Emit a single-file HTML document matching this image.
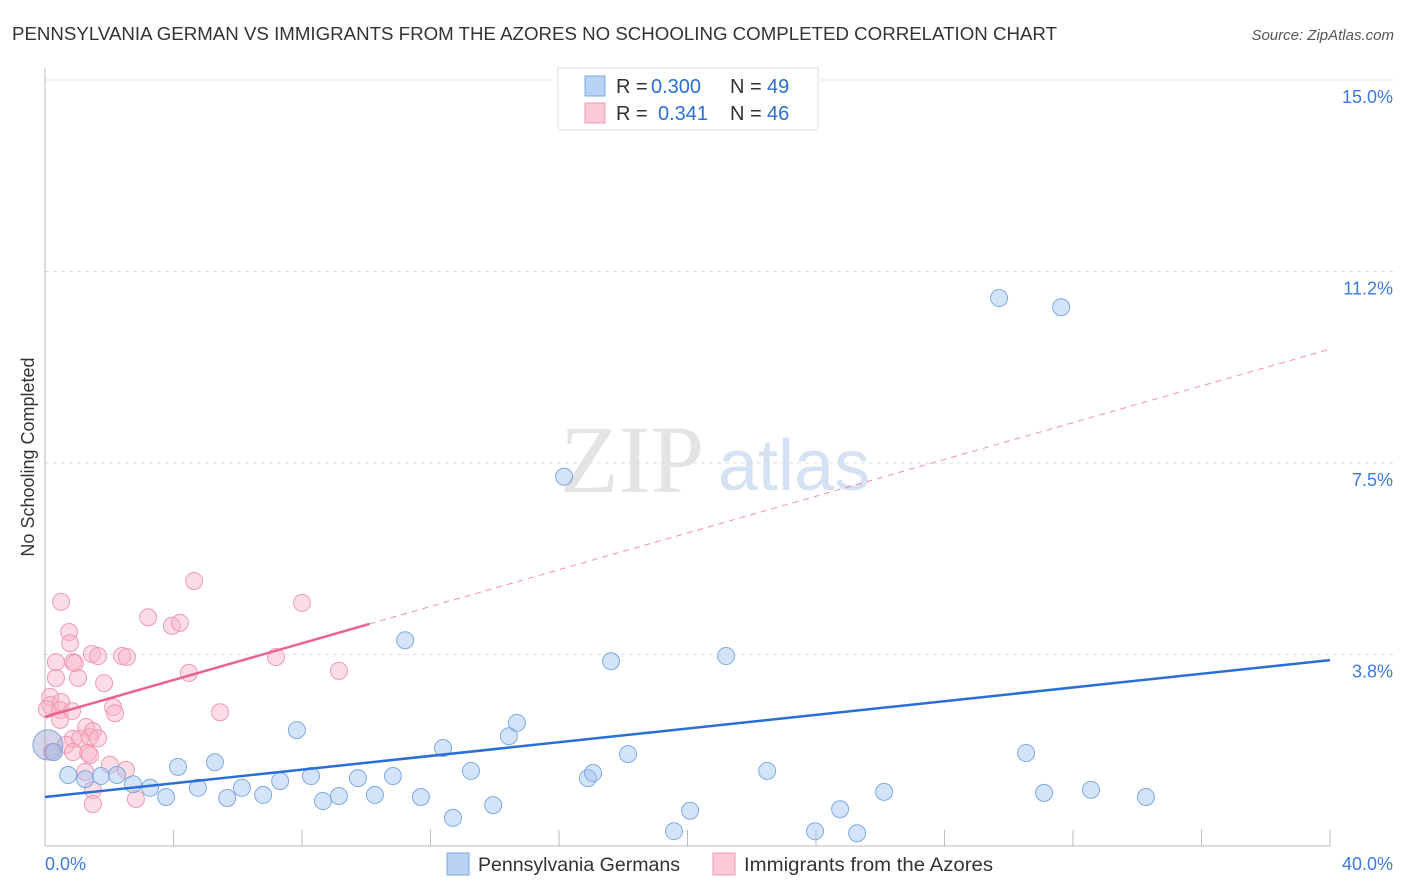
<!DOCTYPE html>
<html><head><meta charset="utf-8"><style>
body{margin:0;background:#fff;font-family:"Liberation Sans",sans-serif;}
svg{display:block}
</style></head><body>
<svg id="c" width="1406" height="892">
<text x="12" y="40" font-size="18" fill="#333" textLength="1045" lengthAdjust="spacingAndGlyphs">PENNSYLVANIA GERMAN VS IMMIGRANTS FROM THE AZORES NO SCHOOLING COMPLETED CORRELATION CHART</text>
<text x="1394" y="40" font-size="15" fill="#555" text-anchor="end" font-style="italic">Source: ZipAtlas.com</text>
<text x="560" y="492" font-size="96" fill="#e4e4e4" font-family="Liberation Serif,serif">ZIP</text>
<text x="718" y="490" font-size="72" fill="#d4e2f4">atlas</text>
<text transform="translate(34,457) rotate(-90)" font-size="18" fill="#333" text-anchor="middle">No Schooling Completed</text>
<g id="grid"></g><g id="pts"></g><g id="lines"></g>
<g>
<rect x="558" y="68" width="260" height="62" fill="#fff" stroke="#ddd"/>
<rect x="585" y="76" width="20" height="20" fill="#b9d3f5" stroke="#7fa9e0"/>
<text x="616" y="93" font-size="20" fill="#333">R =</text>
<text x="651" y="93" font-size="20" fill="#2a6fd6">0.300</text>
<text x="730" y="93" font-size="20" fill="#333">N =</text>
<text x="767" y="93" font-size="20" fill="#2a6fd6">49</text>
<rect x="585" y="103" width="20" height="20" fill="#fbc8d6" stroke="#ee9ab2"/>
<text x="616" y="120" font-size="20" fill="#333">R =</text>
<text x="658" y="120" font-size="20" fill="#2a6fd6">0.341</text>
<text x="730" y="120" font-size="20" fill="#333">N =</text>
<text x="767" y="120" font-size="20" fill="#2a6fd6">46</text>
</g>
<g>
<rect x="447" y="853" width="22" height="22" fill="#b9d3f5" stroke="#7fa9e0"/>
<text x="478" y="871" font-size="19" fill="#333" textLength="202" lengthAdjust="spacingAndGlyphs">Pennsylvania Germans</text></g>
<g>
<rect x="713" y="853" width="22" height="22" fill="#fbc8d6" stroke="#ee9ab2"/>
<text x="744" y="871" font-size="19" fill="#333" textLength="249" lengthAdjust="spacingAndGlyphs">Immigrants from the Azores</text></g>
</svg>
<script>
const yTicks=[3.75,7.5,11.25,15];
const yTickLabels=["3.8%","7.5%","11.2%","15.0%"];
const xEnds=["0.0%","40.0%"];
const blueX=[0.09,0.28,0.72,1.25,1.74,2.24,2.74,3.27,3.77,4.14,4.76,5.29,5.67,6.13,6.79,7.32,7.84,8.28,8.65,9.15,9.74,10.27,10.83,11.21,11.70,12.39,12.70,13.26,13.95,14.44,14.69,16.16,16.90,17.06,17.62,18.15,19.58,20.08,21.20,22.48,23.97,24.75,25.28,26.12,29.70,30.54,31.10,31.63,32.56,34.27];
const blueY=[1.98,1.84,1.39,1.31,1.37,1.39,1.21,1.14,0.96,1.55,1.14,1.64,0.94,1.14,1.00,1.27,2.27,1.37,0.88,0.98,1.33,1.00,1.37,4.03,0.96,1.92,0.55,1.47,0.80,2.15,2.41,7.23,1.33,1.43,3.62,1.80,0.29,0.69,3.72,1.47,0.29,0.72,0.25,1.06,10.73,1.82,1.04,10.55,1.10,0.96];
const pinkX=[0.50,0.75,0.78,0.34,0.87,0.93,0.34,1.03,0.16,0.16,0.50,0.06,0.47,0.84,0.47,1.28,1.49,0.87,1.09,1.40,1.65,0.65,1.34,0.87,1.40,0.22,2.02,1.25,2.52,2.83,1.49,1.49,2.12,2.18,1.84,1.46,1.65,2.40,2.55,3.21,3.95,4.20,4.64,4.48,5.45,7.19,8.00,9.15];
const pinkY=[4.78,4.19,3.97,3.60,3.60,3.58,3.29,3.29,2.92,2.76,2.82,2.68,2.66,2.64,2.47,2.33,2.25,2.10,2.10,2.13,2.11,1.98,1.82,1.84,1.78,1.84,1.59,1.45,1.49,0.92,1.10,0.82,2.72,2.60,3.19,3.76,3.72,3.72,3.70,4.48,4.31,4.37,5.19,3.39,2.62,3.70,4.76,3.43];
const blueTrend=[0.96,3.64];
const pinkTrend=[2.53,9.73];
const pinkSolidEnd=10.1;
const X=v=>45+v/40*1285, Y=v=>846-v/3.75*191.5;
const NS="http://www.w3.org/2000/svg";
function mk(t,a,p){const e=document.createElementNS(NS,t);for(const k in a)e.setAttribute(k,a[k]);document.getElementById(p).appendChild(e);return e;}
let e;
yTicks.forEach((t,i)=>{
 e=mk("line",{x1:45,x2:1395,y1:Y(t),y2:Y(t),stroke:"#ddd","stroke-dasharray":"4,4"},"grid");
 
 
 e=mk("text",{x:1393,y:Y(t)+23,"font-size":18,fill:"#3b7be0","text-anchor":"end"},"grid");e.textContent=yTickLabels[i];
 
 
});
e=mk("line",{x1:45,x2:45,y1:68,y2:846,stroke:"#bbb"},"grid");


e=mk("line",{x1:45,x2:1330,y1:846,y2:846,stroke:"#bbb"},"grid");


for(let v=4;v<=40;v+=4){
 e=mk("line",{x1:X(v),x2:X(v),y1:830,y2:846,stroke:"#bbb"},"grid");
 
 
}
e=mk("text",{x:45,y:870,"font-size":18,fill:"#3b7be0"},"grid");e.textContent=xEnds[0];


e=mk("text",{x:1393,y:870,"font-size":18,fill:"#3b7be0","text-anchor":"end"},"grid");e.textContent=xEnds[1];


pinkX.forEach((x,i)=>{
 e=mk("circle",{cx:X(x),cy:Y(pinkY[i]),r:8.5,fill:"rgba(248,180,200,0.45)",stroke:"#ee9ab2","stroke-width":1},"pts");
 
 
});
blueX.forEach((x,i)=>{
 e=mk("circle",{cx:X(x),cy:Y(blueY[i]),r:i==0?15:8.5,fill:i==0?"rgba(150,150,200,0.4)":"rgba(160,196,240,0.45)",stroke:"#7fa9e0","stroke-width":1},"pts");
 
 
});
const py=v=>pinkTrend[0]+(pinkTrend[1]-pinkTrend[0])*v/40;
e=mk("line",{x1:X(pinkSolidEnd),y1:Y(py(pinkSolidEnd)),x2:X(40),y2:Y(pinkTrend[1]),stroke:"#e8648e","stroke-width":1,"stroke-dasharray":"6,5",opacity:0.7},"lines");


e=mk("line",{x1:X(0),y1:Y(pinkTrend[0]),x2:X(pinkSolidEnd),y2:Y(py(pinkSolidEnd)),stroke:"#e8648e","stroke-width":2.5},"lines");


e=mk("line",{x1:X(0),y1:Y(blueTrend[0]),x2:X(40),y2:Y(blueTrend[1]),stroke:"#2a6fd6","stroke-width":2.5},"lines");


</script>
</body></html>
